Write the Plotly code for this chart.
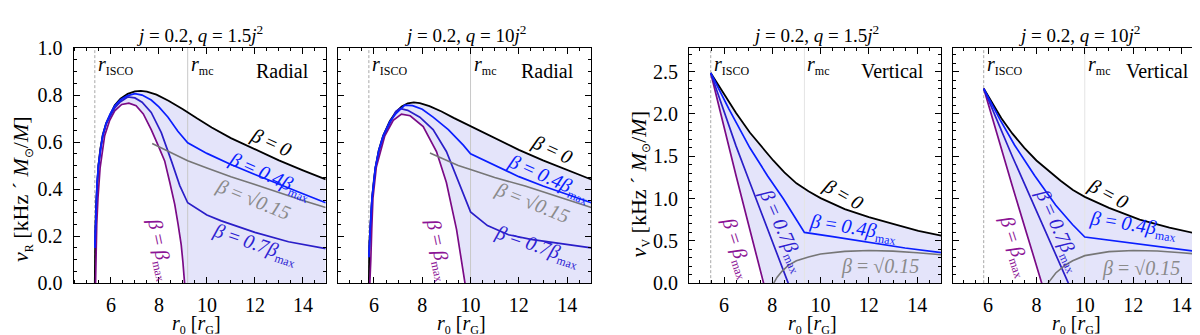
import plotly.graph_objects as go

# ------------------------------------------------------------------ data
panel_titles = [
    "<i>j</i> = 0.2, <i>q</i> = 1.5<i>j</i><sup>2</sup>",
    "<i>j</i> = 0.2, <i>q</i> = 10<i>j</i><sup>2</sup>",
    "<i>j</i> = 0.2, <i>q</i> = 1.5<i>j</i><sup>2</sup>",
    "<i>j</i> = 0.2, <i>q</i> = 10<i>j</i><sup>2</sup>",
]
panel_kinds = ["Radial", "Radial", "Vertical", "Vertical"]
x_ranges = [[4.45, 14.95], [4.5, 15.0], [4.55, 15.0], [4.55, 15.0]]
y_ranges = [[0.0, 1.0005], [0.0, 1.0005], [0.0, 2.78], [0.0, 2.78]]
r_isco = [5.33, 5.79, 5.45, 5.82]
r_mc = [9.2, 10.0, 9.33, 10.0]

# Panel 1 : radial, q = 1.5 j^2
p1_b0_x = [5.33, 5.335, 5.35, 5.38, 5.42, 5.48, 5.56, 5.66, 5.8, 5.97, 6.16, 6.4, 6.7, 7.0, 7.25, 7.5, 7.9, 8.4, 9.0, 9.6, 10.2, 11.0, 12.0, 13.0, 14.0, 14.95]
p1_b0_y = [0.0, 0.12, 0.22, 0.33, 0.42, 0.50, 0.57, 0.63, 0.68, 0.72, 0.757, 0.785, 0.805, 0.816, 0.818, 0.815, 0.802, 0.776, 0.74, 0.70, 0.662, 0.617, 0.568, 0.522, 0.48, 0.441]
p1_b04_x = [5.333, 5.35, 5.38, 5.42, 5.48, 5.56, 5.66, 5.8, 5.97, 6.16, 6.4, 6.7, 7.0, 7.3, 7.68, 8.0, 8.38, 8.79, 9.2, 10.0, 11.0, 12.0, 13.0, 14.0, 14.95]
p1_b04_y = [0.15, 0.22, 0.33, 0.42, 0.50, 0.57, 0.63, 0.68, 0.72, 0.755, 0.78, 0.798, 0.806, 0.80, 0.779, 0.75, 0.706, 0.646, 0.597, 0.552, 0.505, 0.462, 0.42, 0.38, 0.342]
p1_b07_x = [5.333, 5.35, 5.38, 5.42, 5.48, 5.56, 5.66, 5.8, 5.97, 6.16, 6.4, 6.7, 7.0, 7.3, 7.68, 8.1, 8.52, 8.87, 9.2, 10.0, 10.6, 11.3, 12.0, 13.4, 14.95]
p1_b07_y = [0.15, 0.22, 0.33, 0.42, 0.50, 0.57, 0.625, 0.675, 0.71, 0.745, 0.772, 0.792, 0.788, 0.77, 0.726, 0.64, 0.52, 0.415, 0.342, 0.29, 0.265, 0.24, 0.216, 0.176, 0.147]
p1_bmax_x = [5.36, 5.365, 5.38, 5.41, 5.46, 5.55, 5.74, 5.95, 6.16, 6.45, 6.75, 7.05, 7.35, 7.68, 7.95, 8.24, 8.45, 8.66, 8.8, 8.93, 9.0, 9.07]
p1_bmax_y = [0.0, 0.06, 0.15, 0.25, 0.36, 0.49, 0.627, 0.693, 0.733, 0.76, 0.766, 0.755, 0.72, 0.653, 0.59, 0.52, 0.43, 0.335, 0.25, 0.163, 0.09, 0.0]
p1_bsq_x = [7.72, 8.5, 9.2, 10.0, 11.0, 12.0, 13.0, 14.0, 14.95]
p1_bsq_y = [0.594, 0.556, 0.521, 0.49, 0.453, 0.42, 0.385, 0.352, 0.322]

# Panel 2 : radial, q = 10 j^2
p2_b0_x = [5.79, 5.792, 5.81, 5.85, 5.92, 6.0, 6.06, 6.2, 6.38, 6.66, 6.9, 7.15, 7.4, 7.65, 7.9, 8.3, 8.8, 9.3, 9.7, 10.0, 11.0, 12.0, 13.0, 14.0, 15.0]
p2_b0_y = [0.0, 0.11, 0.17, 0.235, 0.36, 0.44, 0.49, 0.565, 0.627, 0.69, 0.727, 0.752, 0.765, 0.769, 0.766, 0.753, 0.73, 0.703, 0.683, 0.666, 0.615, 0.567, 0.522, 0.48, 0.441]
p2_b04_x = [5.792, 5.81, 5.85, 5.92, 6.0, 6.06, 6.2, 6.38, 6.66, 6.9, 7.28, 7.6, 8.0, 8.45, 9.08, 9.7, 10.0, 11.0, 12.0, 13.0, 14.0, 15.0]
p2_b04_y = [0.11, 0.17, 0.235, 0.36, 0.44, 0.49, 0.565, 0.627, 0.688, 0.72, 0.757, 0.755, 0.74, 0.706, 0.653, 0.587, 0.55, 0.5, 0.453, 0.413, 0.376, 0.342]
p2_b07_x = [5.792, 5.81, 5.85, 5.92, 6.0, 6.06, 6.2, 6.38, 6.66, 6.9, 7.07, 7.4, 7.9, 8.45, 9.0, 9.42, 9.7, 10.0, 10.7, 11.57, 12.5, 13.6, 15.0]
p2_b07_y = [0.11, 0.17, 0.235, 0.36, 0.44, 0.49, 0.56, 0.62, 0.68, 0.73, 0.743, 0.735, 0.706, 0.653, 0.56, 0.454, 0.38, 0.303, 0.245, 0.206, 0.186, 0.17, 0.15]
p2_bmax_x = [5.83, 5.84, 5.87, 5.91, 5.96, 6.1, 6.45, 6.8, 7.14, 7.5, 8.04, 8.59, 9.0, 9.42, 9.6, 9.77]
p2_bmax_y = [0.0, 0.05, 0.097, 0.23, 0.362, 0.494, 0.627, 0.693, 0.719, 0.712, 0.666, 0.56, 0.428, 0.229, 0.12, 0.0]
p2_bsq_x = [8.32, 9.0, 9.49, 10.0, 11.0, 12.26, 13.5, 15.0]
p2_bsq_y = [0.554, 0.523, 0.5, 0.483, 0.449, 0.413, 0.372, 0.322]

# Panel 3 : vertical, q = 1.5 j^2
p3_b0_x = [5.45, 5.7, 6.1, 6.5, 7.07, 7.5, 8.04, 8.5, 9.0, 9.5, 10.0, 11.0, 12.0, 13.0, 14.05, 15.0]
p3_b0_y = [2.485, 2.37, 2.18, 2.01, 1.78, 1.63, 1.45, 1.31, 1.18, 1.085, 1.005, 0.875, 0.78, 0.7, 0.617, 0.562]
p3_b04_x = [5.45, 6.2, 7.07, 7.8, 8.45, 9.0, 9.33, 10.5, 12.0, 13.5, 15.0]
p3_b04_y = [2.485, 2.06, 1.6, 1.27, 1.0, 0.75, 0.6, 0.55, 0.48, 0.415, 0.36]
p3_b07_x = [5.45, 6.0, 6.5, 7.07, 7.5, 7.9, 8.3, 8.66]
p3_b07_y = [2.485, 2.02, 1.62, 1.19, 0.87, 0.57, 0.27, 0.0]
p3_bmax_x = [5.45, 6.0, 6.5, 7.0, 7.3, 7.64]
p3_bmax_y = [2.485, 1.84, 1.27, 0.71, 0.38, 0.0]
p3_bsq_x = [8.06, 8.2, 8.4, 8.66, 9.0, 9.5, 10.0, 11.0, 12.0, 13.0, 14.0, 15.0]
p3_bsq_y = [0.0, 0.07, 0.14, 0.21, 0.265, 0.31, 0.345, 0.375, 0.385, 0.378, 0.36, 0.335]

# Panel 4 : vertical, q = 10 j^2
p4_b0_x = [5.82, 6.1, 6.55, 7.0, 7.5, 8.0, 8.48, 9.0, 9.51, 10.0, 11.0, 12.27, 13.5, 15.0]
p4_b0_y = [2.30, 2.16, 1.95, 1.77, 1.6, 1.45, 1.33, 1.21, 1.1, 1.02, 0.89, 0.752, 0.655, 0.562]
p4_b04_x = [5.82, 6.5, 7.1, 7.93, 8.8, 9.5, 10.0, 11.5, 13.0, 15.0]
p4_b04_y = [2.30, 1.93, 1.63, 1.27, 0.92, 0.69, 0.545, 0.49, 0.43, 0.36]
p4_b07_x = [5.82, 6.5, 7.0, 7.79, 8.5, 9.0, 9.32]
p4_b07_y = [2.30, 1.83, 1.5, 0.99, 0.53, 0.2, 0.0]
p4_bmax_x = [5.82, 6.4, 7.0, 7.6, 8.22]
p4_bmax_y = [2.30, 1.73, 1.15, 0.585, 0.0]
p4_bsq_x = [8.48, 8.6, 8.8, 9.2, 9.5, 10.0, 11.0, 12.0, 13.0, 14.0, 15.0]
p4_bsq_y = [0.0, 0.05, 0.12, 0.215, 0.265, 0.325, 0.372, 0.385, 0.38, 0.36, 0.335]

curves = [
    dict(b0=(p1_b0_x, p1_b0_y), b04=(p1_b04_x, p1_b04_y), b07=(p1_b07_x, p1_b07_y), bmax=(p1_bmax_x, p1_bmax_y), bsq=(p1_bsq_x, p1_bsq_y)),
    dict(b0=(p2_b0_x, p2_b0_y), b04=(p2_b04_x, p2_b04_y), b07=(p2_b07_x, p2_b07_y), bmax=(p2_bmax_x, p2_bmax_y), bsq=(p2_bsq_x, p2_bsq_y)),
    dict(b0=(p3_b0_x, p3_b0_y), b04=(p3_b04_x, p3_b04_y), b07=(p3_b07_x, p3_b07_y), bmax=(p3_bmax_x, p3_bmax_y), bsq=(p3_bsq_x, p3_bsq_y)),
    dict(b0=(p4_b0_x, p4_b0_y), b04=(p4_b04_x, p4_b04_y), b07=(p4_b07_x, p4_b07_y), bmax=(p4_bmax_x, p4_bmax_y), bsq=(p4_bsq_x, p4_bsq_y)),
]

# label anchor positions (data coords) and angles per panel
label_pos = [
    dict(b0=(12.67, 0.60, 25), b04=(12.62, 0.455, 24), bsq=(11.92, 0.355, 22), b07=(11.99, 0.165, 19), bmax=(8.03, 0.143, 78)),
    dict(b0=(13.36, 0.57, 25), b04=(13.23, 0.445, 24), bsq=(12.53, 0.342, 22), b07=(12.74, 0.155, 19), bmax=(8.66, 0.143, 78)),
    dict(b0=(10.94, 1.05, 30), b04=(11.35, 0.64, 9), bsq=(12.46, 0.195, 0), b07=(8.4, 0.62, 66), bmax=(6.51, 0.416, 72)),
    dict(b0=(10.95, 1.06, 28), b04=(11.99, 0.68, 9), bsq=(12.31, 0.176, 0), b07=(8.9, 0.62, 66), bmax=(7.10, 0.434, 72)),
]

# ------------------------------------------------------------------ style
FONT = "Liberation Serif"
COL = dict(b0="black", b04="#0a1eff", b07="#2a1ec8", bmax="#7a0a86", bsq="#767676")
LAB_COL = dict(b0="black", b04="#0a1eff", b07="#2e1ed2", bmax="#8c1496", bsq="#8a8a8a")
SUB = "<span style='font-size:12px'>{}</span>"
LAB_TXT = dict(
    b0="<i>β</i> = <i>0</i>",
    b04="<i>β</i> = <i>0.4β</i><sub>" + SUB.format("max") + "</sub>",
    b07="<i>β</i> = <i>0.7β</i><sub>" + SUB.format("max") + "</sub>",
    bmax="<i>β</i> = <i>β</i><sub>" + SUB.format("max") + "</sub>",
    bsq="<i>β</i> = √<i>0.15</i>",
)
FILL = "rgb(228,228,250)"
x_dom = [[65.7, 317.7], [329.7, 583.3], [681.0, 933.3], [945.0, 1197.7]]
y_dom = [1 - 282.7 / 335, 1 - 31.0 / 335]
W, H = 1200, 335

fig = go.Figure()
layout = dict(width=W, height=H, margin=dict(l=0, r=0, t=0, b=0),
              paper_bgcolor="white", plot_bgcolor="white", showlegend=False,
              font=dict(family=FONT, color="black"))
annotations = []

for i in range(4):
    n = i + 1
    xs = "x" if n == 1 else f"x{n}"
    ys = "y" if n == 1 else f"y{n}"
    c = curves[i]
    bx, by = c["b0"]
    mx, my = c["bmax"]
    fx = list(bx) + [bx[-1]] + list(mx)[::-1]
    fy = list(by) + [0.0] + list(my)[::-1]
    fig.add_trace(go.Scatter(x=fx, y=fy, mode="lines", fill="toself", fillcolor=FILL,
                             line=dict(width=0), xaxis=xs, yaxis=ys, hoverinfo="skip"))
    yr = y_ranges[i]
    fig.add_trace(go.Scatter(x=[r_isco[i], r_isco[i]], y=yr, mode="lines",
                             line=dict(color="#a8a8a8", width=1, dash="3px,2px"), xaxis=xs, yaxis=ys, hoverinfo="skip"))
    fig.add_trace(go.Scatter(x=[r_mc[i], r_mc[i]], y=yr, mode="lines",
                             line=dict(color="#c8c8c8" if i < 2 else "#e4e4e4", width=1), xaxis=xs, yaxis=ys, hoverinfo="skip"))
    for key, w in [("b0", 1.8), ("bmax", 1.7), ("b07", 1.7), ("b04", 1.7), ("bsq", 1.6)]:
        cx, cy = c[key]
        fig.add_trace(go.Scatter(x=cx, y=cy, mode="lines", line=dict(color=COL[key], width=w),
                                 xaxis=xs, yaxis=ys, hoverinfo="skip"))

    x0, x1 = x_dom[i]
    radial = i < 2
    layout[f"xaxis{n}"] = dict(
        domain=[x0 / W, x1 / W], range=x_ranges[i], anchor=ys, showline=True, linecolor="black",
        linewidth=1.2, mirror="allticks", ticks="inside", ticklen=6, tickwidth=1, tickcolor="black",
        tick0=0, dtick=2, showgrid=False, zeroline=False, ticklabelstandoff=4,
        tickfont=dict(family=FONT, size=20, color="black"),
        minor=dict(tick0=0, dtick=0.5, ticks="inside", ticklen=3, tickcolor="black", showgrid=False))
    layout[f"yaxis{n}"] = dict(
        domain=y_dom, range=yr, anchor=xs, showline=True, linecolor="black",
        linewidth=1.2, mirror="allticks", ticks="inside", ticklen=6, tickwidth=1, tickcolor="black",
        tick0=0, dtick=0.2 if radial else 0.5, tickformat=".1f", showgrid=False, zeroline=False,
        showticklabels=(i % 2 == 0), ticklabelstandoff=6,
        tickfont=dict(family=FONT, size=20, color="black"),
        minor=dict(tick0=0, dtick=0.05 if radial else 0.1, ticks="inside", ticklen=3, tickcolor="black", showgrid=False))

    # titles
    annotations.append(dict(text=panel_titles[i], xref="paper", yref="paper", x=(x0 + x1) / 2 / W,
                            y=1 - 16 / H, showarrow=False, font=dict(family=FONT, size=19, color="black"),
                            xanchor="center", yanchor="middle"))
    # x title
    annotations.append(dict(text="<i>r</i><sub>" + SUB.format("0") + "</sub> [<i>r</i><sub>" + SUB.format("G") + "</sub>]",
                            xref="paper", yref="paper",
                            x=((x0 + x1) / 2 - 3) / W, y=1 - 327 / H, showarrow=False,
                            font=dict(family=FONT, size=20, color="black"), xanchor="center", yanchor="middle"))
    # panel kind
    annotations.append(dict(text=panel_kinds[i], xref="paper", yref="paper", x=(x1 - 15) / W, y=1 - 56 / H,
                            showarrow=False, font=dict(family=FONT, size=20, color="black"),
                            xanchor="right", yanchor="middle"))
    # r_ISCO and r_mc
    annotations.append(dict(text="<i>r</i><sub>" + SUB.format("ISCO") + "</sub>", xref=xs, yref="paper", x=r_isco[i], xshift=1,
                            y=1 - 50 / H, showarrow=False, font=dict(family=FONT, size=20, color="black"),
                            xanchor="left", yanchor="middle"))
    annotations.append(dict(text="<i>r</i><sub>" + SUB.format("mc") + "</sub>", xref=xs, yref="paper", x=r_mc[i], xshift=1,
                            y=1 - 50 / H, showarrow=False, font=dict(family=FONT, size=20, color="black"),
                            xanchor="left", yanchor="middle"))
    # curve labels
    for key, (lx, ly, ang) in label_pos[i].items():
        annotations.append(dict(text=LAB_TXT[key], xref=xs, yref=ys, x=lx, y=ly, textangle=ang,
                                showarrow=False, font=dict(family=FONT, size=20, color=LAB_COL[key]),
                                xanchor="center", yanchor="middle"))

# y titles
YT = "<i>ν</i><sub>" + SUB.format("{}") + "</sub> [kHz ´ <i>M</i><sub>" + SUB.format("⊙") + "</sub>/<i>M</i>]"
annotations.append(dict(text=YT.format("R"), xref="paper", yref="paper",
                        x=14 / W, y=1 - 182 / H, textangle=-90, showarrow=False,
                        font=dict(family=FONT, size=22, color="black"), xanchor="center", yanchor="middle"))
annotations.append(dict(text=YT.format("V"), xref="paper", yref="paper",
                        x=632 / W, y=1 - 177 / H, textangle=-90, showarrow=False,
                        font=dict(family=FONT, size=22, color="black"), xanchor="center", yanchor="middle"))

layout["annotations"] = annotations
fig.update_layout(**layout)
fig.write_html("out.html")
